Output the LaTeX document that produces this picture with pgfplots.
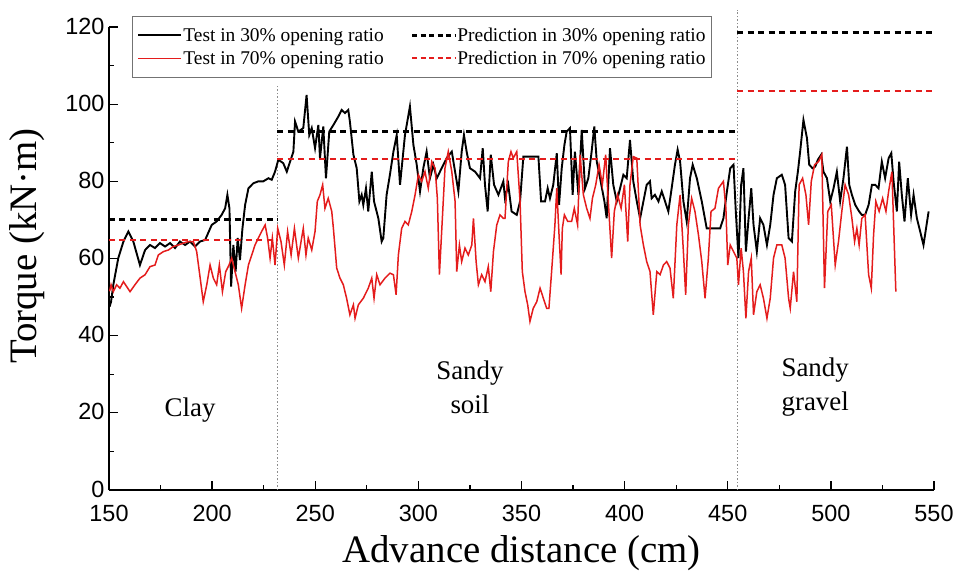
\documentclass[border=0pt]{standalone}
\usepackage{fontspec}
\setmainfont{Liberation Serif}
\newfontfamily\arialfont{Liberation Sans}
\usepackage{pgfplots}
\pgfplotsset{compat=1.18}
\definecolor{testred}{RGB}{228,28,28}
\definecolor{divgray}{RGB}{140,140,140}

\begin{document}
\begin{tikzpicture}
\path[use as bounding box] (-109bp,-86bp) rectangle (846bp,490bp);
\begin{axis}[
  at={(0,0)}, anchor=south west,
  width=825bp, height=463bp, scale only axis,
  xmin=150, xmax=550, ymin=0, ymax=120,
  axis x line*=bottom, axis y line*=left,
  axis line style={line width=1.8bp, black},
  xtick={150,200,...,550}, ytick={0,20,...,120},
  minor x tick num=1, minor y tick num=1,
  tick align=inside,
  major tick length=9bp, minor tick length=5bp,
  every tick/.style={line width=1.3bp, black},
  ticklabel style={font=\arialfont\fontsize{23.5}{26}\selectfont},
  /pgf/number format/assume math mode=true,
  xticklabel style={yshift=-12bp},
  yticklabel style={xshift=-1bp, yshift=1bp},
  xlabel={Advance distance (cm)},
  ylabel={Torque (kN·m)},
  label style={font=\fontsize{39}{44}\selectfont},
  xlabel style={at={(axis description cs:0.5,-0.157)}, anchor=base},
  ylabel style={at={(axis description cs:-0.088,0.527)}, anchor=base},
  clip=false,
  unbounded coords=jump,
  legend columns=2,
  legend cell align=left,
  legend image code/.code={\draw[#1] (0bp,0bp) -- (43bp,0bp);},
  legend style={
    at={(0.028,1.024)}, anchor=north west,
    draw=black!55, line width=0.9bp,
    font=\fontsize{19.5}{22}\selectfont,
    inner xsep=5bp, inner ysep=10bp,
    row sep=5bp,
    nodes={inner xsep=1bp, inner ysep=1.5bp},
    /tikz/column 2/.style={column sep=26bp},
  },
]

% soil boundaries
\draw[divgray, line width=0.9bp, dash pattern=on 1.5bp off 2bp]
  (axis cs:231.5,0) -- (axis cs:231.5,105);
\draw[divgray, line width=0.9bp, dash pattern=on 1.5bp off 2bp]
  (axis cs:454.5,0) -- (axis cs:454.5,124.5);

% measured torque, 30% opening ratio
\addplot[black, line width=1.9bp, forget plot] coordinates {
(150.3,47.5) (151,48.8) (152.1,53.2) (154.5,60.1) (157,64.4) (159.4,67) (161.8,64.4) (165,58.3) (167.5,62.2) (169.9,63.5) (172.3,62.7) (174.7,64) (177.2,63.1) (179.6,64) (182,62.7) (184.4,64.4) (186.9,63.5) (189.3,64.4) (191.7,63.1) (194.1,64.4) (196.6,64.8) (199.8,68.7) (202.2,69.6) (204.6,71.3) (206.3,73) (207.4,76.5) (208.4,73) (209.2,52.7) (210.3,63.5) (211.4,56.6) (212.4,65.3) (213.5,59.6) (214.7,67.8) (216,73.9) (217.6,78.2) (220,79.5) (222.4,80) (224.8,80) (227.3,80.8) (228.9,80.4) (230.5,82.5) (232.1,85.6) (234.5,84.7) (236.2,82.5) (237.8,85.1) (239.4,87.7) (240.2,95.5) (241.8,92.9) (244.2,93.8) (245.8,102.4) (247.1,92) (248.3,93.8) (249.9,88.6) (251.5,94.6) (252.3,86) (253.9,94.2) (255.2,80.8) (256.8,92.9) (258.8,94.6) (261.2,96.8) (262.8,98.5) (264.4,97.7) (266,98.5) (266.8,95.5) (268.5,86.9) (270.1,83.4) (271.4,74.8) (272.5,76.5) (273.3,73.9) (274.6,78.2) (275.7,72.2) (277.4,82.5) (278.5,74.8) (280.6,70.4) (282.2,64.4) (283,65.3) (284.6,76.5) (286.2,81.7) (287.9,87.7) (289.5,92) (291.1,79.1) (293.5,92) (295.9,99.4) (297.6,89.4) (299.2,84.3) (300.8,77.4) (302.4,83.4) (304,87.7) (305.6,80.8) (307.3,84.3) (308.9,80.8) (311.3,83.4) (313.7,86) (316.2,87.7) (317.8,82.5) (319.4,77.4) (321,87.7) (322.1,92) (323.4,87.7) (325,83.4) (327.5,82.5) (329.9,80.8) (331.2,88.6) (332.3,79.1) (333.6,72.2) (335.1,86.9) (336.7,79.1) (338.8,76.5) (341.2,80) (342,75.6) (343.6,79.1) (345.2,72.2) (347.7,71.3) (349.3,74.8) (350.9,86.4) (353.3,86.4) (355.7,86.4) (358.2,86.4) (359.5,74.8) (361.4,74.8) (362.7,78.2) (363.8,75.6) (365.4,79.1) (367.1,87.3) (368.2,73.9) (369.5,83.4) (370.8,89.4) (371.9,92.9) (373.5,93.8) (374.8,76.5) (375.9,87.7) (377.6,76.5) (379.2,93.3) (380.8,78.2) (382.4,80.8) (384,87.7) (385.3,94.2) (386.5,85.1) (388.1,80.8) (390.2,74.8) (391.3,70.4) (392.9,88.6) (394.5,79.1) (396.2,74.8) (397.8,78.2) (399.4,81.7) (401,80.8) (402.6,90.7) (404.2,80) (405.9,74.8) (407.5,70.4) (409.1,74.8) (410.7,79.1) (412.3,80) (413.1,75.6) (414.7,76.5) (416.4,74.8) (418,77.4) (419.6,74.8) (421.2,72.2) (422.8,78.2) (424.4,84.3) (425.7,88.2) (426.9,85.1) (428.5,74.8) (430.1,69.6) (431.7,80.8) (433,84.3) (435,80.8) (437.4,74.8) (439.8,67.8) (442.2,67.8) (446.3,67.8) (447.9,70.4) (449.6,77.4) (451.2,83.4) (452.8,84.3) (453.9,72.2) (455.2,60.1) (456.5,79.1) (457.6,83.4) (458.8,61.8) (460.1,70.4) (461.4,78.2) (462.5,68.7) (464.1,61.8) (465.7,70.4) (467.3,68.7) (469,63.5) (470.6,68.7) (472.2,76.5) (473.8,80.8) (476.2,81.7) (477.8,79.1) (479.5,65.3) (481.1,64.4) (482.7,77.4) (484,82.5) (485.1,87.7) (486.7,95.9) (488.4,91.2) (489.5,84.3) (491.1,83.4) (492.4,83.8) (493.7,85.6) (495.3,86.9) (496.4,82.5) (498.1,80.8) (499.7,74.8) (501.3,78.2) (502.9,82.5) (504.5,74.8) (506.1,80.8) (507.8,89) (508.9,79.1) (510.2,76.5) (511.8,73.9) (513.7,72.2) (515,71.3) (516.6,71.3) (518.3,73.9) (519.9,79.1) (521.5,79.1) (523.1,78.2) (524.7,85.1) (526.3,80.8) (528,86) (529.3,87.3) (530.4,80) (532,72.2) (533.1,85.1) (534.4,76.5) (535.7,69.6) (537.3,80.8) (538.9,71.3) (540.1,76.5) (541.7,70.4) (543.3,67) (544.9,63.5) (547.4,72.2)
};

% measured torque, 70% opening ratio
\addplot[testred, line width=1.5bp, forget plot] coordinates {
(150.3,51.5) (151,53.2) (152.1,51.4) (153.7,53.2) (155.3,52.3) (157,54) (158.6,52.7) (160.2,51.4) (162.6,53.2) (165,54.9) (167.5,55.8) (169.9,57.9) (172.3,58.3) (173.9,60.9) (176.4,61.8) (178.8,62.2) (181.2,63.1) (183.6,63.5) (186.1,64) (188.5,64.4) (190.9,64.4) (192.5,61.8) (193.8,56.6) (195.7,48.8) (197.4,53.2) (199,58.3) (200.6,54.9) (202.2,53.2) (203.5,58.3) (205,51.4) (206.6,56.6) (208.2,58.3) (209.5,60.1) (211.1,56.6) (212.7,53.2) (214.3,47.1) (216,53.2) (217.6,58.3) (219.2,60.9) (220.8,63.5) (222.4,65.3) (224,67) (225.7,68.7) (226.9,65.3) (228.1,60.1) (229.2,65.3) (230.5,58.3) (231.8,67.8) (233.4,64.4) (235,58.3) (236.6,67) (238.3,60.9) (239.9,67.8) (241.8,60.1) (243.4,65.3) (244.2,67.8) (245.5,60.9) (246.6,65.3) (248.3,62.2) (249.9,67) (251,74.8) (252.3,76.5) (253.6,79.1) (254.7,73) (256.3,75.6) (258,72.2) (258.8,67.8) (260.4,57.5) (262,54.9) (263.6,53.2) (265.2,49.7) (266.8,45.4) (268.5,48) (269.3,44.5) (270.9,48) (273.3,49.7) (275.7,52.3) (277.4,54.9) (278.5,49.7) (279.8,55.8) (281.4,53.2) (283.8,54.9) (286.2,56.2) (287.9,55.8) (289.2,50.6) (290.3,60.9) (291.9,67.8) (293.5,69.6) (295.1,68.7) (296.8,72.2) (298.4,76.5) (300,81.7) (301.6,80) (303.2,82.5) (304.8,78.2) (306.5,85.1) (308.1,83.4) (309.2,75.6) (310.2,55.8) (311.3,67) (312.9,83.4) (314.5,87.7) (316.2,82.5) (317.8,74.8) (318.6,56.6) (319.9,63.5) (321,59.2) (322.6,62.7) (324.2,60.9) (325.9,63.5) (326.7,70.4) (328,59.2) (329.1,53.2) (330.7,55.8) (332.3,54) (333.9,57.9) (335.1,51.4) (336.4,61.8) (338,68.7) (339.6,71.3) (341.2,70.4) (342,70.4) (343.6,85.1) (344.9,87.7) (346,86) (347.7,87.7) (349.3,74.8) (350.4,56.6) (351.7,51.4) (353,48) (354.1,43.7) (355.7,47.1) (357.4,48.8) (359,52.3) (360.6,49.7) (362.2,47.1) (363.3,47.1) (364.6,56.6) (366.2,68.7) (367.1,78.2) (368.2,66.1) (369.2,55.8) (369.8,67.8) (370.8,71.3) (372.4,69.6) (374.3,69.6) (375.6,73) (377.2,68.7) (378.4,86.9) (380,76.5) (381.6,73) (383.2,70.4) (384.4,75.6) (386,79.1) (387.6,84.3) (389.2,79.1) (390.8,86.9) (392.1,74.8) (393.7,60.1) (395,72.2) (396.6,76.5) (398.3,73) (399.9,79.1) (401.5,64.4) (402.6,79.1) (404.2,86.4) (405.9,86) (407.5,68.7) (409.1,63.5) (410.7,59.2) (412.3,56.6) (413.9,45.4) (415.6,56.6) (417.2,55.8) (418.8,58.3) (420.4,59.2) (422,57.5) (423.6,49.7) (425.3,68.7) (426.9,76.5) (428.5,61.8) (429.6,50.6) (430.9,68.7) (432.5,75.6) (434.1,72.2) (435.8,66.1) (437.4,59.2) (439,49.7) (440.6,60.1) (441.9,72.2) (443.8,73) (445.5,78.2) (447.9,80) (449.1,73) (450,58.3) (451.2,63.5) (452.8,61.8) (454.4,60.1) (455.2,53.2) (456.5,62.7) (457.6,56.6) (458.8,44.5) (460.1,56.6) (461.4,60.1) (462.5,45.4) (464.1,51.4) (465.7,53.2) (467.3,49.7) (469,44.5) (470.6,49.7) (472.2,60.1) (473.8,63.5) (476.2,63.5) (477.8,60.1) (479.5,49.7) (480.3,47.1) (481.9,56.6) (483.5,48.8) (484.6,79.1) (486.3,80.8) (487.9,76.5) (489.2,68.7) (490.5,80) (492.1,84.3) (494,85.1) (495.6,86.9) (496.9,52.3) (498.5,72.2) (500.2,73.9) (502.1,58.3) (503.7,64.4) (505.3,72.2) (506.9,79.1) (508.6,76.5) (510.2,70.4) (511.5,64.4) (512.6,67.8) (513.7,63.5) (515,70.4) (516.6,71.3) (518.3,55.8) (519.6,52.3) (520.7,66.1) (521.8,74.8) (523.4,72.2) (525.1,75.6) (526.7,72.2) (528,77.4) (529.6,82.5) (530.7,64.4) (531.5,51.4)
};

% predicted torque for each stratum
\addplot[black, line width=3bp, dash pattern=on 6bp off 4.5bp, forget plot] coordinates {
(150,70) (231.5,70) (231.5,nan) (231.5,92.8) (454.5,92.8) (454.5,nan) (454.5,118.7) (550,118.7)
};
\addplot[testred, line width=2bp, dash pattern=on 6bp off 4.5bp, forget plot] coordinates {
(150,64.8) (231.5,64.8) (231.5,nan) (231.5,85.8) (454.5,85.8) (454.5,nan) (454.5,103.3) (550,103.3)
};

% legend entries
\addlegendimage{black, line width=1.8bp}
\addlegendentry{Test in 30\% opening ratio}
\addlegendimage{black, line width=2.6bp, dash pattern=on 5bp off 3.5bp}
\addlegendentry{Prediction in 30\% opening ratio}
\addlegendimage{testred, line width=1.5bp}
\addlegendentry{Test in 70\% opening ratio}
\addlegendimage{testred, line width=2bp, dash pattern=on 5bp off 3.5bp}
\addlegendentry{Prediction in 70\% opening ratio}

% strata names
\node[font=\fontsize{27}{34}\selectfont] at (axis cs:189.3,20.7) {Clay};
\node[font=\fontsize{27}{34}\selectfont, align=center] at (axis cs:325,26.7) {Sandy\\soil};
\node[font=\fontsize{27}{34}\selectfont, align=center] at (axis cs:492.4,26.7) {Sandy\\gravel};
\end{axis}
\end{tikzpicture}
\end{document}
